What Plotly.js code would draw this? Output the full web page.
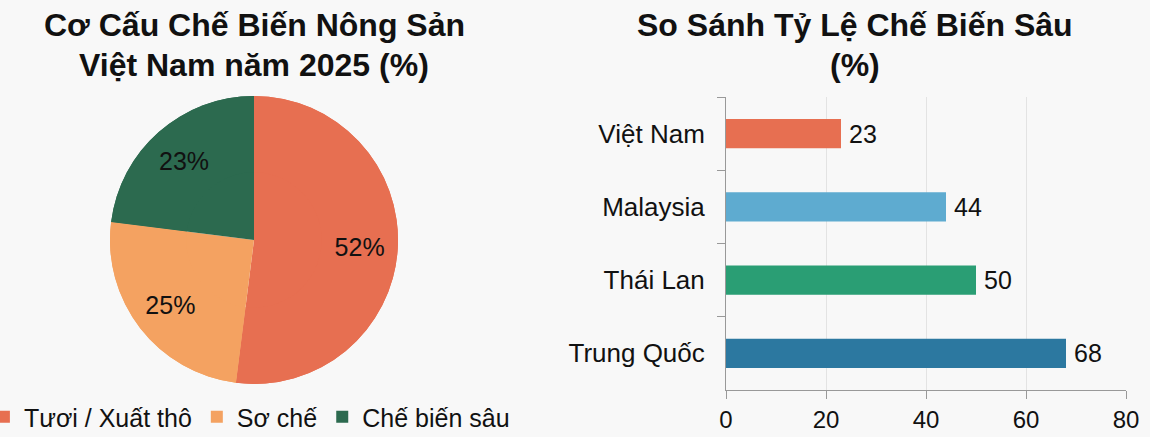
<!DOCTYPE html>
<html>
<head>
<meta charset="utf-8">
<script src="https://cdn.plot.ly/plotly-3.0.1.min.js"></script>
<style>
  html, body { margin: 0; padding: 0; background: #f8f8f8; }
  #chart { width: 1150px; height: 437px; }
</style>
</head>
<body>
<div id="chart"></div>
<script>
// Pie: co cau che bien nong san
var pieLabels = ["Tươi / Xuất thô", "Sơ chế", "Chế biến sâu"];
var pieValues = [52, 25, 23];
var pieColors = ["#e76f51", "#f4a261", "#2c6a4f"];

// Bar: ty le che bien sau theo quoc gia
var countries = ["Việt Nam", "Malaysia", "Thái Lan", "Trung Quốc"];
var deepRates = [23, 44, 50, 68];
var barColors = ["#e76f51", "#5eabd0", "#2a9e74", "#2c78a0"];

var font = "Liberation Sans, Arial, sans-serif";
var pieDomain = {x: [110/1150, 398/1150], y: [53/437, 341/437]};

// full pie underneath, carries the legend
var pieBase = {
  type: 'pie',
  labels: pieLabels,
  values: pieValues,
  marker: {colors: pieColors, line: {width: 0}},
  sort: false,
  direction: 'clockwise',
  rotation: 0,
  textinfo: 'none',
  domain: pieDomain
};

// ring on top only to push the percent labels outward
var pieRing = {
  type: 'pie',
  labels: pieLabels,
  values: pieValues,
  marker: {colors: pieColors, line: {width: 0}},
  hole: 0.47,
  sort: false,
  direction: 'clockwise',
  rotation: 0,
  textinfo: 'percent',
  textposition: 'inside',
  insidetextorientation: 'horizontal',
  insidetextfont: {family: font, size: 25, color: '#111'},
  domain: pieDomain,
  showlegend: false
};

var bar = {
  type: 'bar',
  orientation: 'h',
  x: deepRates,
  y: countries,
  marker: {color: barColors},
  width: 0.4,
  texttemplate: '\u2009%{x}',
  textposition: 'outside',
  textfont: {family: font, size: 25, color: '#111'},
  cliponaxis: false,
  xaxis: 'x',
  yaxis: 'y',
  showlegend: false
};

function titleLine(txt, x, yc) {
  return {text: '<b>' + txt + '</b>', x: x / 1150, y: 1 - yc / 437,
    xref: 'paper', yref: 'paper', xanchor: 'center', yanchor: 'middle',
    showarrow: false, font: {family: font, size: 32, color: '#111'}};
}

var layout = {
  width: 1150,
  height: 437,
  margin: {l: 0, r: 0, t: 0, b: 0, autoexpand: false},
  paper_bgcolor: '#f8f8f8',
  plot_bgcolor: '#f8f8f8',
  font: {family: font, size: 22, color: '#111'},
  showlegend: true,
  legend: {
    orientation: 'h',
    x: -0.014, xanchor: 'left',
    y: 20/437, yanchor: 'middle',
    font: {family: font, size: 25, color: '#111'},
    bgcolor: 'rgba(0,0,0,0)'
  },
  xaxis: {
    domain: [726/1150, 1126/1150],
    range: [0, 80],
    tickvals: [0, 20, 40, 60, 80],
    showgrid: true,
    gridcolor: '#e3e3e3',
    gridwidth: 1,
    zeroline: false,
    showline: true,
    linecolor: '#999',
    ticks: 'outside',
    ticklen: 8,
    tickcolor: '#999',
    tickfont: {size: 24},
    fixedrange: true
  },
  yaxis: {
    domain: [47/437, 340/437],
    autorange: 'reversed',
    showline: true,
    linecolor: '#999',
    ticks: 'outside',
    tickson: 'boundaries',
    ticklen: 8,
    tickcolor: '#999',
    ticklabelstandoff: 15,
    showgrid: false,
    tickfont: {size: 26},
    fixedrange: true
  },
  annotations: [
    titleLine('Cơ Cấu Chế Biến Nông Sản', 254, 25),
    titleLine('Việt Nam năm 2025 (%)', 254, 65),
    titleLine('So Sánh Tỷ Lệ Chế Biến Sâu', 855, 25),
    titleLine('(%)', 855, 65)
  ]
};

Plotly.newPlot('chart', [pieBase, pieRing, bar], layout, {displayModeBar: false, staticPlot: true});
</script>
</body>
</html>
